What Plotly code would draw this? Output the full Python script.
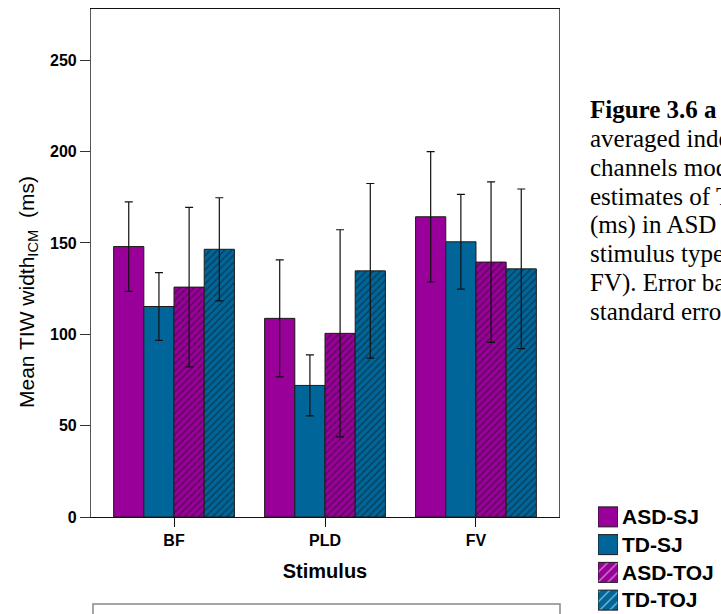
import plotly.graph_objects as go

W, H = 721, 614

stimuli = ["BF", "PLD", "FV"]
groups = ["ASD-SJ", "TD-SJ", "ASD-TOJ", "TD-TOJ"]

# Mean TIW width (ms) per group, one value per stimulus
means = {
    "ASD-SJ": [148.0, 108.7, 164.3],
    "TD-SJ": [115.2, 72.0, 150.6],
    "ASD-TOJ": [125.8, 100.5, 139.5],
    "TD-TOJ": [146.5, 134.7, 135.8],
}
# error bar half-lengths (ms)
errors = {
    "ASD-SJ": [24.5, 32.0, 35.7],
    "TD-SJ": [18.5, 16.7, 25.9],
    "ASD-TOJ": [43.6, 56.7, 43.9],
    "TD-TOJ": [28.2, 47.8, 43.7],
}

y_ticks = [0, 50, 100, 150, 200, 250]

caption_lines = [
    "<b>Figure 3.6 a</b>",
    "averaged independent",
    "channels model",
    "estimates of TIW",
    "(ms) in ASD and TD",
    "stimulus type (BF, PLD,",
    "FV). Error bars",
    "standard errors",
]

MAGENTA = "#990099"
BLUE = "#006699"
colors = {"ASD-SJ": MAGENTA, "TD-SJ": BLUE, "ASD-TOJ": MAGENTA, "TD-TOJ": BLUE}
hatch = {"ASD-SJ": "", "TD-SJ": "", "ASD-TOJ": "/", "TD-TOJ": "/"}

FONT = "Liberation Sans, Arial, sans-serif"
SERIF = "Liberation Serif, Times New Roman, serif"


def px_x(p):
    return p / W


def px_y(p):
    return 1 - p / H


fig = go.Figure()

for g in groups:
    fig.add_trace(go.Bar(
        x=stimuli,
        y=means[g],
        name=g,
        marker=dict(
            color=colors[g],
            line=dict(color="#1a1a1a", width=1),
            pattern=dict(shape=hatch[g], fgcolor="#111111", bgcolor=colors[g],
                         size=5, solidity=0.28),
        ),
        error_y=dict(type="data", array=errors[g], color="#111111",
                     thickness=1.2, width=4),
        showlegend=False,
        xaxis="x", yaxis="y",
    ))

# Legend swatches drawn as bars on their own small axis pair
fig.add_trace(go.Bar(
    y=groups,
    x=[1] * len(groups),
    orientation="h",
    width=0.72,
    marker=dict(
        color=[colors[g] for g in groups],
        line=dict(color="#1a1a1a", width=1),
        pattern=dict(shape=[hatch[g] for g in groups], fgcolor="#111111",
                     bgcolor=[colors[g] for g in groups], size=7, solidity=0.2),
    ),
    showlegend=False,
    xaxis="x2", yaxis="y2",
    hoverinfo="skip",
))

fig.update_layout(
    width=W, height=H,
    autosize=False,
    margin=dict(l=0, r=0, t=0, b=0, pad=0),
    paper_bgcolor="white",
    plot_bgcolor="white",
    barmode="group",
    bargap=0.2,
    bargroupgap=0,
    font=dict(family=FONT, color="black"),
    xaxis=dict(
        domain=[px_x(91), px_x(559)],
        anchor="y",
        type="category",
        range=[-0.55, 2.55],
        automargin=False,
        showline=True, linecolor="#111111", linewidth=1.2, mirror=True,
        ticks="outside", ticklen=9, tickcolor="#111111", tickwidth=1.2,
        ticklabelstandoff=0,
        tickfont=dict(size=16, family=FONT, weight="bold"),
        showgrid=False,
        title=dict(text="Stimulus", font=dict(size=20, family=FONT, weight="bold"),
                   standoff=15),
    ),
    yaxis=dict(
        domain=[px_y(517), px_y(9)],
        anchor="x",
        range=[0, 278],
        tickvals=y_ticks,
        automargin=False,
        showline=True, linecolor="#555555", linewidth=1.2, mirror=True,
        ticks="outside", ticklen=10, tickcolor="#333333", tickwidth=1.2,
        ticklabelstandoff=0,
        tickfont=dict(size=16, family=FONT, weight="bold"),
        showgrid=False, zeroline=False,
    ),
    xaxis2=dict(
        domain=[px_x(598), px_x(618)],
        anchor="y2",
        range=[0, 1],
        visible=False,
        automargin=False,
        fixedrange=True,
    ),
    yaxis2=dict(
        domain=[px_y(614), px_y(503)],
        anchor="x2",
        side="right",
        type="category",
        autorange="reversed",
        automargin=False,
        showline=False, showgrid=False, zeroline=False,
        ticks="", ticklen=0,
        ticklabelstandoff=3,
        tickfont=dict(size=21, family=FONT, weight="bold"),
    ),
)

# y-axis title
fig.add_annotation(
    text="Mean TIW width<sub>ICM</sub>  (ms)",
    xref="paper", yref="paper",
    x=px_x(28), y=px_y(292),
    textangle=-90, showarrow=False,
    xanchor="center", yanchor="middle",
    font=dict(size=21, family=FONT, color="black"),
)

# caption text to the right of the chart
for i, line in enumerate(caption_lines):
    fig.add_annotation(
        text=line,
        xref="paper", yref="paper",
        x=px_x(588), y=px_y(110 + i * 28.8),
        showarrow=False, xanchor="left", yanchor="middle",
        font=dict(size=25, family=SERIF, color="black"),
    )

# frame of the box below the chart
fig.add_shape(
    type="rect", xref="paper", yref="paper",
    x0=px_x(93), x1=px_x(560), y0=px_y(640), y1=px_y(604),
    line=dict(color="#888888", width=1.5), fillcolor="rgba(0,0,0,0)",
)

fig.write_html("out.html")
